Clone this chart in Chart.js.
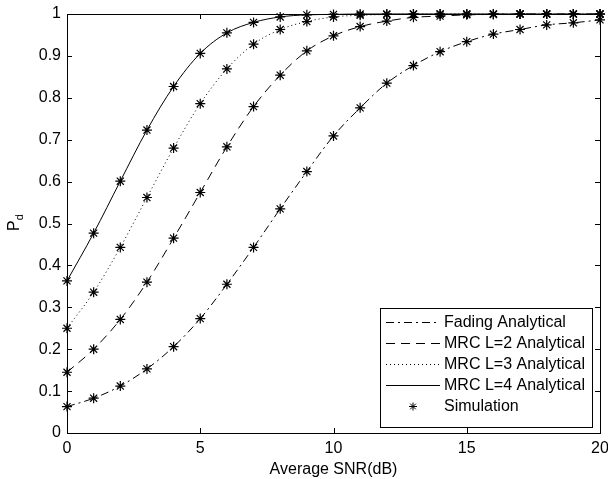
<!DOCTYPE html>
<html>
<head>
<meta charset="utf-8">
<script src="https://cdn.jsdelivr.net/npm/chart.js@4.4.1/dist/chart.umd.min.js"></script>
<style>
  html, body { margin: 0; padding: 0; background: #fff; }
  #wrap { width: 608px; height: 479px; }
</style>
</head>
<body>
<div id="wrap"><canvas id="pdChart"></canvas></div>
<script>
// SNR in dB
var snr = [0, 1, 2, 3, 4, 5, 6, 7, 8, 9, 10, 11, 12, 13, 14, 15, 16, 17, 18, 19, 20];
// detection probability
var fading = [0.063, 0.083, 0.112, 0.153, 0.206, 0.273, 0.355, 0.443, 0.535, 0.624, 0.709, 0.776, 0.835, 0.877, 0.910, 0.934, 0.952, 0.963, 0.974, 0.979, 0.986];
var mrc2 = [0.145, 0.200, 0.271, 0.360, 0.465, 0.574, 0.683, 0.779, 0.854, 0.912, 0.948, 0.970, 0.983, 0.992, 0.995, 0.998, 0.999, 1, 1, 1, 1];
var mrc3 = [0.250, 0.336, 0.443, 0.562, 0.680, 0.786, 0.869, 0.928, 0.963, 0.982, 0.993, 0.997, 0.999, 1, 1, 1, 1, 1, 1, 1, 1];
var mrc4 = [0.363, 0.477, 0.601, 0.723, 0.827, 0.906, 0.955, 0.980, 0.993, 0.998, 0.999, 1, 1, 1, 1, 1, 1, 1, 1, 1, 1];
var xTicks = [0, 5, 10, 15, 20];
var labels = ['Fading Analytical', 'MRC L=2 Analytical', 'MRC L=3 Analytical', 'MRC L=4 Analytical', 'Simulation'];

var FONT = '"Liberation Sans", Arial, Helvetica, sans-serif';
var FSIZE = 16;

function pts(ys) {
    return snr.map(function(x, i) { return {x: x, y: ys[i]}; });
}

function curve(label, ys, dash) {
    return {
        label: label,
        data: pts(ys),
        showLine: true,
        borderColor: '#000',
        borderWidth: 1,
        borderDash: dash,
        pointRadius: 0,
        cubicInterpolationMode: 'monotone',
        clip: false
    };
}

var simData = [].concat(pts(fading), pts(mrc2), pts(mrc3), pts(mrc4));

var datasets = [
    curve(labels[0], fading, [8, 4, 2, 4]),
    curve(labels[1], mrc2, [9, 6]),
    curve(labels[2], mrc3, [1, 3]),
    curve(labels[3], mrc4, []),
    {
        label: labels[4],
        data: simData,
        showLine: false,
        pointStyle: 'star',
        pointRadius: 5,
        borderColor: '#000',
        backgroundColor: '#000',
        pointBorderWidth: 1.2,
        clip: false
    }
];

// box, inner ticks, legend and the P_d label, drawn like matlab does
var matlabLook = {
    id: 'matlabLook',
    afterDraw: function(chart) {
        var ctx = chart.ctx;
        var a = chart.chartArea;
        var xs = chart.scales.x, ys = chart.scales.y;
        ctx.save();
        ctx.strokeStyle = '#000';
        ctx.lineWidth = 1;
        ctx.setLineDash([]);
        ctx.strokeRect(Math.round(a.left) + 0.5, Math.round(a.top) + 0.5,
            Math.round(a.right - a.left), Math.round(a.bottom - a.top));
        var tl = 5;
        ctx.beginPath();
        xs.ticks.forEach(function(t) {
            var px = Math.round(xs.getPixelForValue(t.value)) + 0.5;
            ctx.moveTo(px, a.bottom); ctx.lineTo(px, a.bottom - tl);
            ctx.moveTo(px, a.top); ctx.lineTo(px, a.top + tl);
        });
        ys.ticks.forEach(function(t) {
            var py = Math.round(ys.getPixelForValue(t.value)) + 0.5;
            ctx.moveTo(a.left, py); ctx.lineTo(a.left + tl, py);
            ctx.moveTo(a.right, py); ctx.lineTo(a.right - tl, py);
        });
        ctx.stroke();

        // y label with subscript
        ctx.fillStyle = '#000';
        ctx.translate(19, 226);
        ctx.rotate(-Math.PI / 2);
        ctx.font = FSIZE + 'px ' + FONT;
        ctx.textBaseline = 'alphabetic';
        ctx.textAlign = 'left';
        ctx.fillText('P', -5, 0);
        var pw = ctx.measureText('P').width;
        ctx.font = '11px ' + FONT;
        ctx.fillText('d', -5 + pw, 4);
        ctx.setTransform(1, 0, 0, 1, 0, 0);

        // legend box inside the plot
        var lx = 380, ly = 308, lw = 212, lh = 119;
        ctx.fillStyle = '#fff';
        ctx.fillRect(lx, ly, lw, lh);
        ctx.strokeRect(lx + 0.5, ly + 0.5, lw, lh);
        ctx.font = FSIZE + 'px ' + FONT;
        ctx.textBaseline = 'middle';
        ctx.fillStyle = '#000';
        chart.data.datasets.forEach(function(ds, i) {
            var ry = Math.round(ly + 14 + i * 21) + 0.5;
            if (ds.showLine) {
                ctx.setLineDash(ds.borderDash);
                ctx.beginPath();
                ctx.moveTo(lx + 6, ry);
                ctx.lineTo(lx + 60, ry);
                ctx.stroke();
                ctx.setLineDash([]);
            } else {
                var cx = lx + 33, r = 4;
                ctx.beginPath();
                for (var k = 0; k < 4; k++) {
                    var ang = k * Math.PI / 4;
                    ctx.moveTo(cx - r * Math.cos(ang), ry - r * Math.sin(ang));
                    ctx.lineTo(cx + r * Math.cos(ang), ry + r * Math.sin(ang));
                }
                ctx.stroke();
            }
            ctx.fillText(ds.label, lx + 64, ry);
        });
        ctx.restore();
    }
};

var options = {
    responsive: true,
    maintainAspectRatio: false,
    animation: false,
    layout: { padding: { top: 14, right: 8, bottom: 0, left: 0 } },
    plugins: {
        legend: { display: false },
        tooltip: { enabled: false }
    },
    scales: {
        x: {
            type: 'linear',
            min: 0,
            max: 20,
            afterBuildTicks: function(scale) {
                scale.ticks = xTicks.map(function(v) { return {value: v}; });
            },
            afterFit: function(scale) {
                scale.height = 46;
                scale.paddingLeft = 0;
                scale.paddingRight = 0;
            },
            grid: { display: false, drawTicks: false },
            border: { display: false },
            ticks: { color: '#000', padding: 6, font: { family: FONT, size: FSIZE } },
            title: {
                display: true,
                text: 'Average SNR(dB)',
                color: '#000',
                padding: { top: 0, bottom: 0 },
                font: { family: FONT, size: FSIZE }
            }
        },
        y: {
            min: 0,
            max: 1,
            ticks: {
                stepSize: 0.1,
                color: '#000',
                padding: 6,
                font: { family: FONT, size: FSIZE },
                callback: function(v) { return Math.round(v * 10) / 10; }
            },
            afterFit: function(scale) {
                scale.width = 67;
                scale.paddingTop = 0;
                scale.paddingBottom = 0;
            },
            grid: { display: false, drawTicks: false },
            border: { display: false }
        }
    }
};

var pdChart = new Chart(document.getElementById('pdChart'), {
    type: 'scatter',
    data: { datasets: datasets },
    options: options,
    plugins: [matlabLook]
});
</script>
</body>
</html>
